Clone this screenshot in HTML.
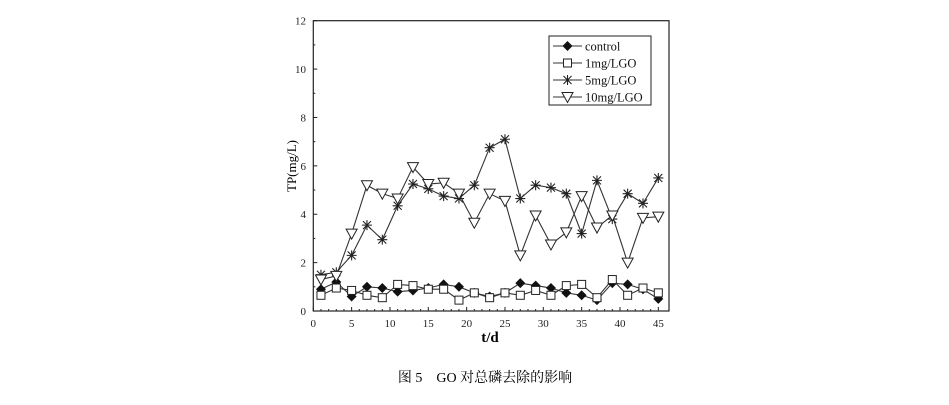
<!DOCTYPE html>
<html><head><meta charset="utf-8"><style>
html,body{margin:0;padding:0;background:#fff;width:949px;height:405px;overflow:hidden}
svg{display:block;font-family:"Liberation Serif",serif}
</style></head><body>
<svg id="s" width="949" height="405" viewBox="0 0 949 405" xmlns="http://www.w3.org/2000/svg">
<rect x="313.3" y="20.7" width="355.7" height="290.3" fill="none" stroke="#222" stroke-width="1.2"/>
<g id="ax" font-size="11" fill="#222"></g>
<text x="490" y="342" font-size="15" font-weight="bold" text-anchor="middle">t/d</text>
<text transform="translate(296,166) rotate(-90)" font-size="13" text-anchor="middle">TP(mg/L)</text>
<g id="data"></g>
<rect x="549" y="36" width="102" height="69" fill="#fff" stroke="#222" stroke-width="1"/>
<g id="leg" font-size="12.5"></g>
<text x="485" y="382" font-size="14" text-anchor="middle" font-family="'Liberation Serif','Noto Serif CJK SC',serif">图 5　GO 对总磷去除的影响</text>
</svg>
<script>
const X=v=>313.3+v*7.667, Y=v=>311-v*24.19;
const ns="http://www.w3.org/2000/svg";
function el(p,t,a,txt){const e=document.createElementNS(ns,t);for(const k in a)e.setAttribute(k,a[k]);if(txt!=null)e.textContent=txt;p.appendChild(e);return e;}
const ax=document.getElementById('ax');
for(let v=0;v<=45;v+=5){el(ax,'line',{x1:X(v),x2:X(v),y1:311,y2:307,stroke:'#222'});el(ax,'text',{x:X(v),y:327,'text-anchor':'middle'},v);}
for(let v=0;v<=45;v+=1){if(v%5)el(ax,'line',{x1:X(v),x2:X(v),y1:311,y2:309,stroke:'#222'});}
for(let v=0;v<=12;v+=2){el(ax,'line',{x1:313.3,x2:317.3,y1:Y(v),y2:Y(v),stroke:'#222'});el(ax,'text',{x:306,y:Y(v)+4,'text-anchor':'end'},v);}
for(let v=1;v<12;v+=2)el(ax,'line',{x1:313.3,x2:315.3,y1:Y(v),y2:Y(v),stroke:'#222'});
const xs=[];for(let i=1;i<=45;i+=2)xs.push(i);
const S=[
['c',[0.9,1.2,0.6,1.0,0.95,0.8,0.85,0.95,1.1,1.0,0.75,0.6,0.75,1.15,1.05,0.95,0.75,0.65,0.45,1.15,1.1,0.9,0.5]],
['s',[0.65,0.95,0.85,0.65,0.55,1.1,1.05,0.9,0.9,0.45,0.75,0.55,0.75,0.65,0.85,0.65,1.05,1.1,0.55,1.3,0.65,0.95,0.75]],
['x',[1.5,1.6,2.3,3.55,2.95,4.35,5.25,5.05,4.75,4.65,5.2,6.75,7.1,4.65,5.2,5.1,4.85,3.2,5.4,3.8,4.85,4.45,5.5]],
['t',[1.3,1.45,3.2,5.2,4.85,4.65,5.95,5.25,5.3,4.85,3.65,4.85,4.55,2.3,3.95,2.75,3.25,4.75,3.45,3.95,2.0,3.85,3.9]]];
function mk(g,t,x,y){
 if(t=='c')el(g,'polygon',{points:`${x},${y-5} ${x+5},${y} ${x},${y+5} ${x-5},${y}`,fill:'#111'});
 if(t=='s')el(g,'rect',{x:x-4,y:y-4,width:8,height:8,fill:'#fff',stroke:'#222'});
 if(t=='x'){const p=`M${x-5},${y}H${x+5}M${x},${y-5}V${y+5}M${x-4},${y-4}L${x+4},${y+4}M${x-4},${y+4}L${x+4},${y-4}`;el(g,'path',{d:p,stroke:'#222','stroke-width':1.1});}
 if(t=='t')el(g,'polygon',{points:`${x-5.5},${y-4.5} ${x+5.5},${y-4.5} ${x},${y+5.5}`,fill:'#fff',stroke:'#222'});
}
const d=document.getElementById('data');
S.forEach(([t,v])=>{el(d,'polyline',{points:v.map((y,i)=>X(xs[i])+','+Y(y)).join(' '),fill:'none',stroke:'#333','stroke-width':1.1});});
S.forEach(([t,v])=>{v.forEach((y,i)=>mk(d,t,X(xs[i]),Y(y)));});
const lg=document.getElementById('leg');const names=['control','1mg/LGO','5mg/LGO','10mg/LGO'];
S.forEach(([t],i)=>{const y=46+i*17;el(lg,'line',{x1:553,x2:582,y1:y,y2:y,stroke:'#333','stroke-width':1.1});mk(lg,t,567.5,y);el(lg,'text',{x:585,y:y+4.5,fill:'#111'},names[i]);});
</script>
</body></html>
